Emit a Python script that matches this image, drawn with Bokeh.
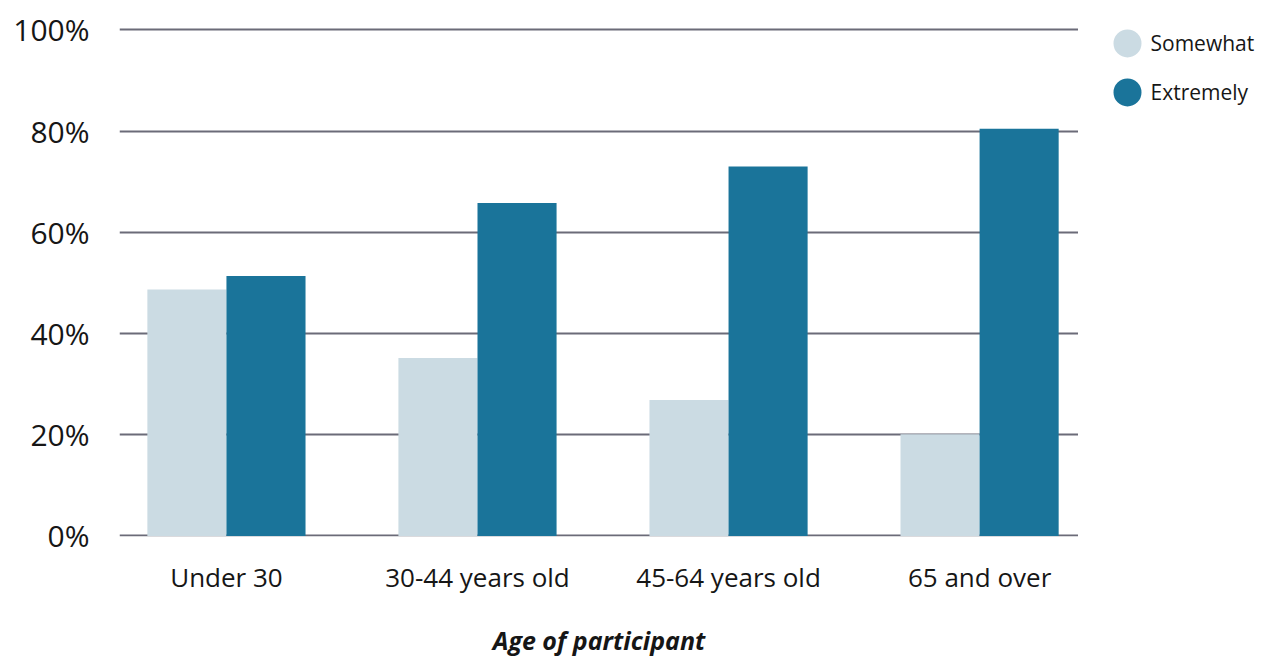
from bokeh.plotting import figure
from bokeh.layouts import row
from bokeh.models import (Range1d, FixedTicker, PrintfTickFormatter, ColumnDataSource)
from bokeh.core.properties import value
from bokeh.transform import dodge
from bokeh.embed import file_html
from bokeh.resources import INLINE

# Survey results by age group (percent of respondents)
age_groups = ["Under 30", "30-44 years old", "45-64 years old", "65 and over"]
somewhat = [48.7, 35.2, 26.9, 20.1]
extremely = [51.4, 65.8, 73.0, 80.5]
series_names = ["Somewhat", "Extremely"]
series_colors = ["#cbdbe3", "#1a749a"]
y_ticks = [0, 20, 40, 60, 80, 100]

FONT = "Open Sans"
TEXT_COLOR = "#161616"
GRID_COLOR = "#6b6b78"
BAR_W = 0.315
BORDER_TOP, BORDER_BOTTOM = 27, 123

positions = list(range(len(age_groups)))
src = ColumnDataSource(dict(x=positions, somewhat=somewhat, extremely=extremely))

p = figure(width=1078, height=659,
           x_range=Range1d(-0.426, 3.394), y_range=Range1d(-0.1, 100.49),
           output_backend="svg", toolbar_location=None,
           min_border_left=119, min_border_right=0,
           min_border_top=BORDER_TOP, min_border_bottom=BORDER_BOTTOM)
p.outline_line_color = None
p.background_fill_color = "white"
p.border_fill_color = "white"

for col, off, color in zip(["somewhat", "extremely"], [-BAR_W / 2, BAR_W / 2], series_colors):
    p.vbar(x=dodge("x", off, range=p.x_range), top=col, bottom=0, width=BAR_W,
           source=src, fill_color=color, line_color=None)

# y axis
p.yaxis.ticker = FixedTicker(ticks=y_ticks)
p.yaxis.formatter = PrintfTickFormatter(format="%d%%")
p.yaxis.axis_line_color = None
p.yaxis.major_tick_line_color = None
p.yaxis.minor_tick_line_color = None
p.yaxis.major_label_standoff = 24
p.yaxis.major_label_text_font = FONT
p.yaxis.major_label_text_font_size = "30px"
p.yaxis.major_label_text_color = TEXT_COLOR

p.ygrid.ticker = FixedTicker(ticks=y_ticks)
p.ygrid.grid_line_color = GRID_COLOR
p.ygrid.grid_line_width = 2
p.xgrid.visible = False

# x axis
p.xaxis.ticker = FixedTicker(ticks=positions)
p.xaxis.major_label_overrides = {i: name for i, name in zip(positions, age_groups)}
p.xaxis.axis_line_color = None
p.xaxis.major_tick_line_color = None
p.xaxis.minor_tick_line_color = None
p.xaxis.major_label_standoff = 16
p.xaxis.major_label_text_font = FONT
p.xaxis.major_label_text_font_size = "26px"
p.xaxis.major_label_text_color = TEXT_COLOR
p.xaxis.axis_label = "Age of participant"
p.xaxis.axis_label_text_font = FONT
p.xaxis.axis_label_text_font_style = "bold italic"
p.xaxis.axis_label_text_font_size = "25px"
p.xaxis.axis_label_text_color = TEXT_COLOR
p.xaxis.axis_label_standoff = 25

# legend panel: one round swatch and label per series, stacked top-down
leg_src = ColumnDataSource(dict(row=list(range(len(series_names))),
                                name=series_names, color=series_colors))
leg = figure(width=190, height=659,
             x_range=Range1d(0, 190), y_range=Range1d(10.08, -0.3265),
             output_backend="svg", toolbar_location=None,
             x_axis_location=None, y_axis_location=None,
             min_border_left=0, min_border_right=0,
             min_border_top=BORDER_TOP, min_border_bottom=BORDER_BOTTOM)
leg.outline_line_color = None
leg.grid.visible = False
leg.background_fill_color = "white"
leg.border_fill_color = "white"
leg.scatter(x=49, y="row", source=leg_src, size=28, marker="circle",
            fill_color="color", line_color=None)
leg.text(x=49, y="row", text="name", source=leg_src, x_offset=23,
         text_baseline="middle", text_align="left",
         text_font=value(FONT), text_font_size="21px", text_color=TEXT_COLOR)

layout = row(p, leg)
open("out.html", "w").write(file_html(layout, INLINE))
